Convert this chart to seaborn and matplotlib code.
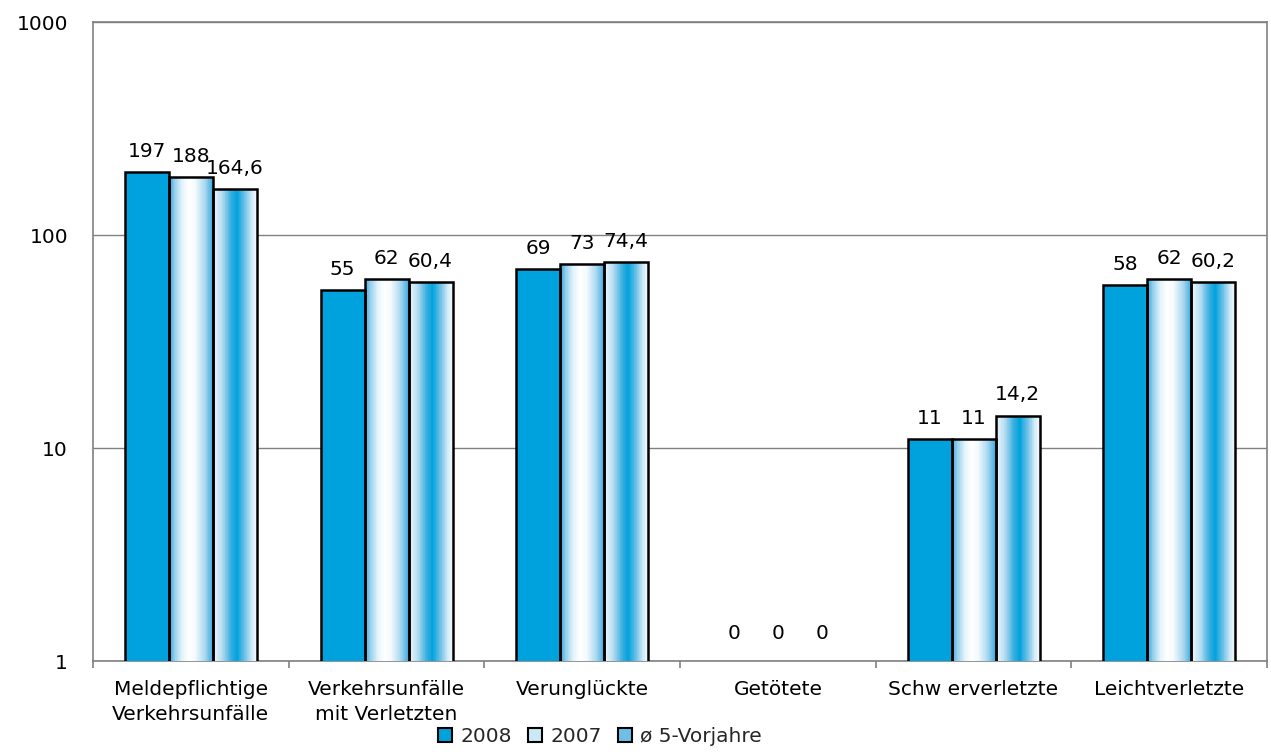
import numpy as np
import pandas as pd
import matplotlib
matplotlib.use("Agg")
import matplotlib.pyplot as plt
import seaborn as sns
from matplotlib.colors import LinearSegmentedColormap
from matplotlib.patches import Patch

# --- data -------------------------------------------------------------
categories = ["Meldepflichtige\nVerkehrsunfälle", "Verkehrsunfälle\nmit Verletzten",
              "Verunglückte", "Getötete", "Schw erverletzte", "Leichtverletzte"]
series = ["2008", "2007", "ø 5-Vorjahre"]
values_2008 = [197, 55, 69, 0, 11, 58]
values_2007 = [188, 62, 73, 0, 11, 62]
values_avg5 = [164.6, 60.4, 74.4, 0, 14.2, 60.2]

df = pd.DataFrame({
    "Kategorie": categories * 3,
    "Reihe": [series[0]] * 6 + [series[1]] * 6 + [series[2]] * 6,
    "Wert": values_2008 + values_2007 + values_avg5,
})

BLUE = "#00a2dd"
GRAY = "#808080"
FS = 14.5

sns.set_theme(style="white")
plt.rcParams["font.family"] = ["DejaVu Sans"]

fig = plt.figure(figsize=(12.71, 7.52), dpi=100)
ax = fig.add_axes([0.0732, 0.121, 0.9969 - 0.0732, 0.9707 - 0.121])

sns.barplot(data=df, x="Kategorie", y="Wert", hue="Reihe", order=categories,
            hue_order=series, palette=[BLUE, BLUE, BLUE], saturation=1,
            width=0.675, gap=0, edgecolor="black", linewidth=1.8, legend=False,
            ax=ax, zorder=3)

ax.set_yscale("log")

# horizontal gradients for the comparison series, drawn as thin strips
cmap_2007 = LinearSegmentedColormap.from_list(
    "g2007", [(0.0, "#2ba4dd"), (0.12, "#8fcdec"), (0.3, "#e4f3fb"), (0.45, "#ffffff"),
              (0.6, "#f4fafd"), (0.82, "#a9d8f0"), (1.0, "#3eaadf")])
cmap_avg5 = LinearSegmentedColormap.from_list(
    "gavg5", [(0.0, "#f2f9fd"), (0.2, "#b9def2"), (0.42, "#35addf"), (0.55, "#00a2dd"),
              (0.72, "#6cc0e7"), (0.9, "#d6ecf8"), (1.0, "#f6fbfe")])
N_STRIPS = 60
t = (np.arange(N_STRIPS) + 0.5) / N_STRIPS

for container, cmap in zip(ax.containers[1:], [cmap_2007, cmap_avg5]):
    for bar in container:
        h = bar.get_height()
        if not h > 0:
            continue
        x0 = bar.get_x()
        w = bar.get_width()
        bar.set_facecolor("none")
        ax.bar(x0 + t * w, [h] * N_STRIPS, width=w / N_STRIPS * 1.02,
               color=cmap(t), linewidth=0, zorder=2.9)

ax.set_ylim(1, 1000)
ax.set_xlim(-0.5, len(categories) - 0.5)

# value labels
label_values = [values_2008, values_2007, values_avg5]
for container, vals in zip(ax.containers[:3], label_values):
    for bar, v in zip(container, vals):
        xc = bar.get_x() + bar.get_width() / 2
        txt = f"{v:g}".replace(".", ",")
        if v > 0:
            ax.annotate(txt, (xc, v), xytext=(0, 8), textcoords="offset points",
                        ha="center", va="bottom", fontsize=FS, color="black")
        else:
            ax.annotate(txt, (xc, 1), xytext=(0, 20), textcoords="offset points",
                        ha="center", va="center", fontsize=FS, color="black")

# axes styling
for s in ax.spines.values():
    s.set_color(GRAY)
    s.set_linewidth(1.2)
ax.set_axisbelow(True)
ax.yaxis.grid(True, which="major", color=GRAY, linewidth=1.0)
ax.xaxis.grid(False)
ax.set_yticks([1, 10, 100, 1000])
ax.set_yticklabels(["1", "10", "100", "1000"])
ax.yaxis.set_minor_locator(matplotlib.ticker.NullLocator())
ax.tick_params(axis="y", which="major", length=0, pad=18, labelsize=FS, labelcolor="black")

ax.set_xticks(range(len(categories)))
ax.set_xticklabels(categories, linespacing=1.4)
ax.set_xticks(np.arange(-0.5, len(categories)), minor=True)
ax.tick_params(axis="x", which="major", length=0, pad=14, labelsize=FS, labelcolor="black")
ax.tick_params(axis="x", which="minor", bottom=True, length=5, width=1.2, color=GRAY, direction="out")
ax.set_xlabel("")
ax.set_ylabel("")

handles = [Patch(facecolor=BLUE, edgecolor="black", linewidth=1.5),
           Patch(facecolor="#cbe8f7", edgecolor="black", linewidth=1.5),
           Patch(facecolor="#6cc0e7", edgecolor="black", linewidth=1.5)]
fig.legend(handles, series, loc="center", bbox_to_anchor=(0.472, 0.02), ncol=3,
           frameon=False, fontsize=FS, handlelength=0.7, handleheight=0.7,
           handletextpad=0.4, columnspacing=0.8, borderaxespad=0)

fig.savefig("out.png", dpi=100)
